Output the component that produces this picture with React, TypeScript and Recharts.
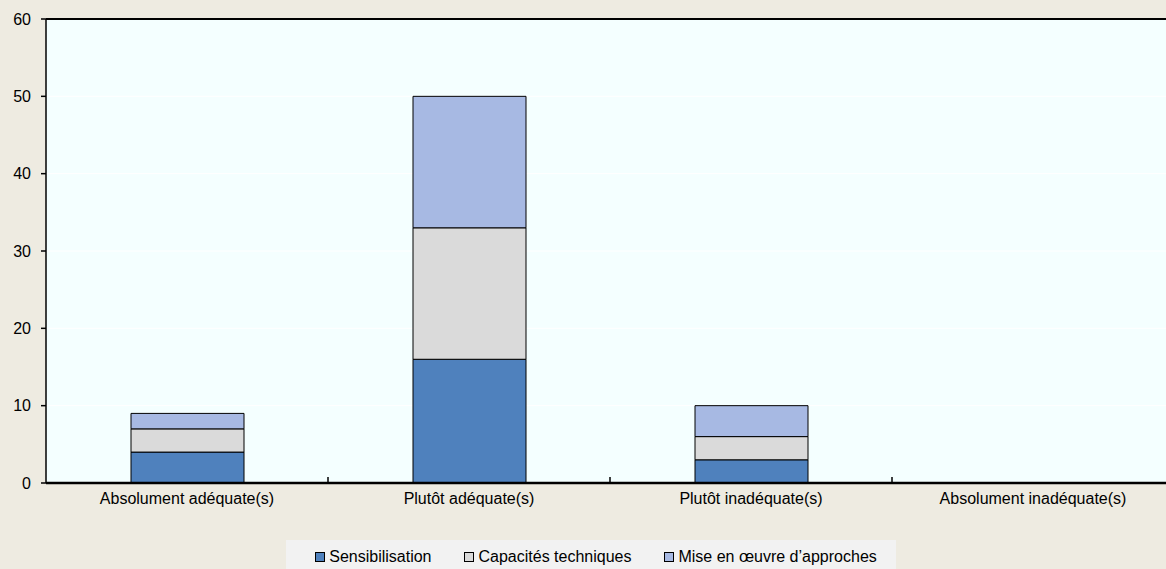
import { BarChart, Bar, XAxis, YAxis, CartesianGrid, ReferenceLine } from 'recharts';

const categories = ['Absolument adéquate(s)', 'Plutôt adéquate(s)', 'Plutôt inadéquate(s)', 'Absolument inadéquate(s)'];
const sensibilisation = [4, 16, 3, 0];
const capacites = [3, 17, 3, 0];
const miseEnOeuvre = [2, 17, 4, 0];
const yTicks = [0, 10, 20, 30, 40, 50, 60];

const SERIES = [
  { key: 'sensibilisation', name: 'Sensibilisation', color: '#4F81BD' },
  { key: 'capacites', name: 'Capacités techniques', color: '#DADADA' },
  { key: 'miseEnOeuvre', name: 'Mise en œuvre d’approches', color: '#A7B9E3' },
];

const data = categories.map((name, i) => ({
  name,
  sensibilisation: sensibilisation[i],
  capacites: capacites[i],
  miseEnOeuvre: miseEnOeuvre[i],
}));

const FONT = '"Liberation Sans", Arial, sans-serif';
const X_TICK_MARGIN = 10;

// category label plus a short upward tick on the boundary to the next category
function CategoryTick(props: any) {
  const { x, y, payload, index } = props;
  const half = payload?.offset || 141;
  const axisY = y - X_TICK_MARGIN;
  return (
    <g>
      <text x={x} y={y} dy="0.71em" textAnchor="middle" fontSize={16} fontFamily={FONT} fill="#000">
        {payload.value}
      </text>
      {index < categories.length - 1 && (
        <line x1={x + half} x2={x + half} y1={axisY} y2={axisY - 6} stroke="#000" strokeWidth={1.5} />
      )}
    </g>
  );
}

export default function App() {
  return (
    <div style={{ position: 'absolute', left: 0, top: 0, width: 1166, height: 569, background: '#EEEBE1', overflow: 'hidden' }}>
      {/* plot runs a little past the right edge and is clipped there */}
      <BarChart
        width={1174}
        height={569}
        data={data}
        margin={{ top: 19, right: 0, left: 0, bottom: 0 }}
        barSize={113}
      >
        <CartesianGrid vertical={false} stroke="#FFFFFF" strokeWidth={1} fill="#F4FFFF" />
        <XAxis
          dataKey="name"
          height={86}
          tickLine={false}
          tickSize={0}
          tickMargin={X_TICK_MARGIN}
          axisLine={{ stroke: '#000', strokeWidth: 2.5 }}
          tick={<CategoryTick />}
          interval={0}
        />
        <YAxis
          width={46}
          domain={[0, 60]}
          ticks={yTicks}
          tickSize={5}
          tickMargin={10}
          axisLine={{ stroke: '#000', strokeWidth: 1.5 }}
          tickLine={{ stroke: '#000', strokeWidth: 1.5 }}
          tick={{ fontSize: 16, fontFamily: FONT, fill: '#000' }}
        />
        <ReferenceLine y={60} stroke="#000" strokeWidth={2} />
        {SERIES.map((s) => (
          <Bar
            key={s.key}
            dataKey={s.key}
            name={s.name}
            stackId="a"
            fill={s.color}
            stroke="#000"
            strokeWidth={1}
            isAnimationActive={false}
          />
        ))}
      </BarChart>
      <div
        style={{
          position: 'absolute',
          left: 286,
          top: 540,
          width: 610,
          height: 40,
          background: '#F2F2F2',
          display: 'flex',
          justifyContent: 'center',
          alignItems: 'flex-start',
          paddingTop: 8,
          paddingLeft: 10,
          boxSizing: 'border-box',
          fontFamily: FONT,
          fontSize: 16,
          color: '#000',
          gap: 33,
        }}
      >
        {SERIES.map((s) => (
          <div key={s.key} style={{ display: 'flex', alignItems: 'center', gap: 4, lineHeight: '18px' }}>
            <span style={{ display: 'inline-block', width: 8, height: 8, background: s.color, border: '1px solid #000' }} />
            <span>{s.name}</span>
          </div>
        ))}
      </div>
    </div>
  );
}
